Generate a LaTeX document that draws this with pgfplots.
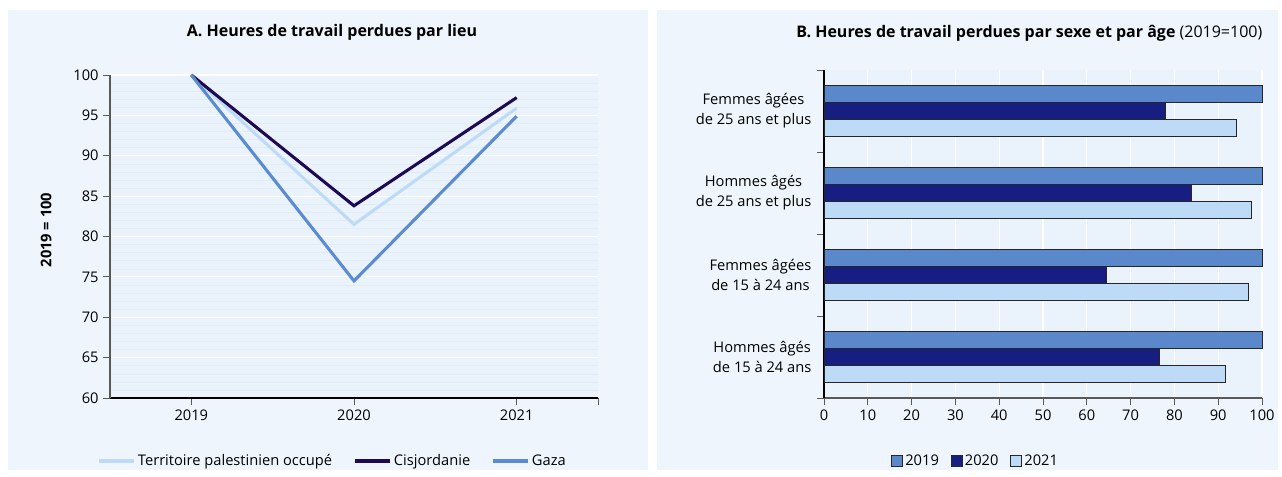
\documentclass[border=0pt]{standalone}
\usepackage{pgfplots}
\pgfplotsset{compat=1.18}
\usepackage{fontspec}
\setmainfont{Open Sans}
\definecolor{panelbg}{HTML}{EEF5FC}
\definecolor{plotbg}{HTML}{EAF3FB}
\definecolor{minorgrid}{HTML}{E3ECF5}
\definecolor{cTPO}{HTML}{BDDBF7}
\definecolor{cCis}{HTML}{1E0A52}
\definecolor{cGaza}{HTML}{5B8BD0}
\definecolor{b19}{HTML}{5B87CB}
\definecolor{b20}{HTML}{161E82}
\definecolor{b21}{HTML}{BDDBF7}
\definecolor{axgrey}{HTML}{595959}
\begin{document}
\begin{tikzpicture}
\fill[white] (0,0) rectangle (961.5pt,357.75pt);
\fill[panelbg] (6pt,5.25pt) rectangle (486pt,350.25pt);
\fill[panelbg] (492.75pt,5.25pt) rectangle (958.5pt,350.25pt);
\node[font=\bfseries\fontsize{12}{14}\selectfont] at (249pt,333.75pt) {A. Heures de travail perdues par lieu};
\node[anchor=east,font=\fontsize{12}{14}\selectfont] at (950.25pt,333pt) {\textbf{B. Heures de travail perdues par sexe et par âge} (2019=100)};

\begin{axis}[
  at={(82.5pt,59.25pt)}, anchor=south west, scale only axis,
  width=366pt, height=242.25pt,
  xmin=2018.5, xmax=2021.5, ymin=60, ymax=100,
  xtick={2019,2020,2021,2021.5}, xticklabels={2019,2020,2021,{}},
  ytick={60,65,...,100},
  minor y tick num=4,
  axis x line*=bottom, axis y line*=left,
  axis line style={-, axgrey, line width=0.8pt},
  x axis line style={black},
  tick align=outside, major tick length=5pt, minor tick length=0pt,
  tick style={axgrey, line width=0.6pt},
  ymajorgrids, major grid style={white, line width=0.9pt},
  yminorgrids, minor grid style={minorgrid, line width=0.4pt},
  axis background/.style={fill=plotbg},
  /pgf/number format/1000 sep={},
  /pgf/number format/assume math mode=true,
  tick label style={font=\fontsize{11}{13}\selectfont},
  ylabel={2019 = 100},
  ylabel style={font=\bfseries\fontsize{11}{13}\selectfont, at={(axis description cs:-0.131,0.52)}, anchor=center},
  clip=false,
  legend style={at={(axis description cs:0.457,-0.195)}, anchor=center, draw=none, fill=none,
    legend columns=3, font=\fontsize{11}{13}\selectfont,
    /tikz/every odd column/.append style={column sep=0pt},
    /tikz/every even column/.append style={column sep=14pt}},
  legend image code/.code={\draw[#1] (0pt,0pt) -- (26pt,0pt);},
]
\addplot[cTPO, line width=2.3pt] coordinates {(2019,100) (2020,81.5) (2021,95.9)};
\addlegendentry{Territoire palestinien occupé}
\addplot[cCis, line width=2.3pt] coordinates {(2019,100) (2020,83.8) (2021,97.2)};
\addlegendentry{Cisjordanie}
\addplot[cGaza, line width=2.3pt] coordinates {(2019,100) (2020,74.5) (2021,94.9)};
\addlegendentry{Gaza}
\end{axis}

\begin{axis}[
  at={(618pt,59.25pt)}, anchor=south west, scale only axis,
  width=328.5pt, height=246pt,
  xmin=0, xmax=100, ymin=-0.5, ymax=3.5,
  xtick={0,10,...,100},
  ytick={-0.5,0.5,1.5,2.5,3.5}, yticklabels={},
  extra y ticks={0,1,2,3},
  extra y tick labels={{Hommes âgés\\de 15 à 24 ans},{Femmes âgées\\de 15 à 24 ans},{Hommes âgés\\de 25 ans et plus},{Femmes âgées\\de 25 ans et plus}},
  extra y tick style={major tick length=0pt, yticklabel style={align=center, xshift=-6pt, font=\fontsize{11}{15}\selectfont}},
  axis x line*=bottom, axis y line*=left,
  axis line style={-, black, line width=0.8pt},
  x axis line style={axgrey},
  tick align=outside, major tick length=5pt,
  tick style={axgrey, line width=0.6pt},
  xmajorgrids, major grid style={white, line width=0.9pt},
  axis background/.style={fill=plotbg},
  /pgf/number format/assume math mode=true,
  tick label style={font=\fontsize{11}{13}\selectfont},
  clip=false,
  legend style={at={(axis description cs:0.347,-0.192)}, anchor=center, draw=none, fill=none,
    legend columns=3, font=\fontsize{11}{13}\selectfont,
    /tikz/every odd column/.append style={column sep=0pt},
    /tikz/every even column/.append style={column sep=7pt}},
  legend image code/.code={\draw[#1] (0pt,-4pt) rectangle (8pt,4pt);},
]
\addplot[xbar, bar width=12.75pt, bar shift=12.75pt, fill=b19, draw=black!85, line width=0.5pt]
  coordinates {(100,0) (100,1) (100,2) (100,3)};
\addlegendentry{2019}
\addplot[xbar, bar width=12.75pt, bar shift=0pt, fill=b20, draw=black!85, line width=0.5pt]
  coordinates {(76.5,0) (64.4,1) (83.9,2) (78.0,3)};
\addlegendentry{2020}
\addplot[xbar, bar width=12.75pt, bar shift=-12.75pt, fill=b21, draw=black!85, line width=0.5pt]
  coordinates {(91.7,0) (96.8,1) (97.5,2) (94.2,3)};
\addlegendentry{2021}
\end{axis}
\end{tikzpicture}
\end{document}
